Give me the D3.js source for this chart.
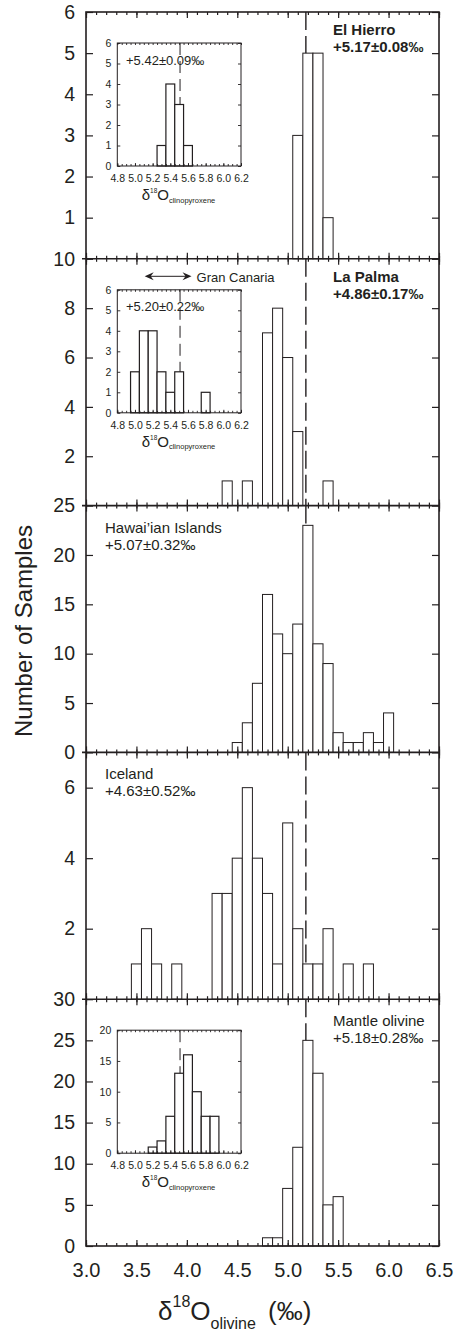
<!DOCTYPE html>
<html>
<head>
<meta charset="utf-8">
<script src="https://cdn.jsdelivr.net/npm/d3@7"></script>
<style>
  html, body { margin: 0; padding: 0; background: #fff; }
  svg { display: block; font-family: "Liberation Sans", Arial, Helvetica, sans-serif; }
</style>
</head>
<body>
<svg id="chart" width="458" height="1331"></svg>
<script>
// ---- olivine δ18O histograms (bin centres in ‰, counts) ----
const elHierroBins   = [5.1, 5.2, 5.3, 5.4];
const elHierroCounts = [3, 5, 5, 1];

const laPalmaBins   = [4.4, 4.6, 4.8, 4.9, 5.0, 5.1, 5.4];
const laPalmaCounts = [1, 1, 7, 8, 6, 3, 1];

const hawaiiBins   = [4.5, 4.6, 4.7, 4.8, 4.9, 5.0, 5.1, 5.2, 5.3, 5.4, 5.5, 5.6, 5.7, 5.8, 5.9, 6.0];
const hawaiiCounts = [1, 3, 7, 16, 12, 10, 13, 23, 11, 9, 2, 1, 1, 2, 1, 4];

const icelandBins   = [3.5, 3.6, 3.7, 3.9, 4.3, 4.4, 4.5, 4.6, 4.7, 4.8, 4.9, 5.0, 5.1, 5.2, 5.3, 5.4, 5.6, 5.8];
const icelandCounts = [1, 2, 1, 1, 3, 3, 4, 6, 4, 3, 1, 5, 2, 1, 1, 2, 1, 1];

const mantleBins   = [4.8, 4.9, 5.0, 5.1, 5.2, 5.3, 5.4, 5.5];
const mantleCounts = [1, 1, 7, 12, 25, 21, 5, 6];

// ---- clinopyroxene δ18O histograms (insets) ----
const elHierroCpxBins   = [5.3, 5.4, 5.5, 5.6];
const elHierroCpxCounts = [1, 4, 3, 1];

const laPalmaCpxBins   = [5.0, 5.1, 5.2, 5.3, 5.4, 5.5, 5.8];
const laPalmaCpxCounts = [2, 4, 4, 2, 1, 2, 1];

const mantleCpxBins   = [5.2, 5.3, 5.4, 5.5, 5.6, 5.7, 5.8, 5.9];
const mantleCpxCounts = [1, 2, 6, 13, 16, 10, 6, 6];

const granCanariaCpxRange = [5.11, 5.64];

// ---- reference values ----
const binWidth = 0.1;
const mantleOlivineMean = 5.18;
const mantleCpxMean = 5.51;

// ---- labels and ticks ----
const panelNames = ["El Hierro", "La Palma", "Hawai\u2019ian Islands", "Iceland", "Mantle olivine"];
const panelMeans = ["+5.17\u00b10.08\u2030", "+4.86\u00b10.17\u2030", "+5.07\u00b10.32\u2030", "+4.63\u00b10.52\u2030", "+5.18\u00b10.28\u2030"];
const panelYMax = [6, 10, 25, 7, 30];
const elHierroYTicks = [1, 2, 3, 4, 5, 6];
const laPalmaYTicks  = [2, 4, 6, 8, 10];
const hawaiiYTicks   = [0, 5, 10, 15, 20, 25];
const icelandYTicks  = [2, 4, 6];
const mantleYTicks   = [0, 5, 10, 15, 20, 25, 30];

const xTickLabels = [3.0, 3.5, 4.0, 4.5, 5.0, 5.5, 6.0, 6.5];
const xMinorTicks = d3.range(30, 66).map(d => d / 10);

const cpxXTickLabels = [4.8, 5.0, 5.2, 5.4, 5.6, 5.8, 6.0, 6.2];
const cpxXMinorTicks = d3.range(96, 125).map(d => d / 20);
const cpxMeans = ["+5.42\u00b10.09\u2030", "+5.20\u00b10.22\u2030", null];
const cpxYMax = [6, 6, 20];
const elHierroCpxYTicks = [0, 1, 2, 3, 4, 5, 6];
const laPalmaCpxYTicks  = [0, 1, 2, 3, 4, 5, 6];
const mantleCpxYTicks   = [0, 5, 10, 15, 20];

// ---- assemble panels ----
const zip = (b, c) => b.map((v, i) => ({ c: v, n: c[i] }));
const panels = [
  { name: panelNames[0], mean: panelMeans[0], ymax: panelYMax[0], ticks: elHierroYTicks, bins: zip(elHierroBins, elHierroCounts), bold: true, align: "right",
    inset: { bins: zip(elHierroCpxBins, elHierroCpxCounts), ymax: cpxYMax[0], ticks: elHierroCpxYTicks, mean: cpxMeans[0] } },
  { name: panelNames[1], mean: panelMeans[1], ymax: panelYMax[1], ticks: laPalmaYTicks, bins: zip(laPalmaBins, laPalmaCounts), bold: true, align: "right",
    inset: { bins: zip(laPalmaCpxBins, laPalmaCpxCounts), ymax: cpxYMax[1], ticks: laPalmaCpxYTicks, mean: cpxMeans[1], range: granCanariaCpxRange } },
  { name: panelNames[2], mean: panelMeans[2], ymax: panelYMax[2], ticks: hawaiiYTicks, bins: zip(hawaiiBins, hawaiiCounts), bold: false, align: "left" },
  { name: panelNames[3], mean: panelMeans[3], ymax: panelYMax[3], ticks: icelandYTicks, bins: zip(icelandBins, icelandCounts), bold: false, align: "left" },
  { name: panelNames[4], mean: panelMeans[4], ymax: panelYMax[4], ticks: mantleYTicks, bins: zip(mantleBins, mantleCounts), bold: false, align: "right",
    inset: { bins: zip(mantleCpxBins, mantleCpxCounts), ymax: cpxYMax[2], ticks: mantleCpxYTicks, mean: cpxMeans[2] } }
];

// ---- layout ----
const ink = "#231f20";
const plotLeft = 86, plotRight = 439, plotTop = 12, panelH = 246.8;
const plotBottom = plotTop + panelH * panels.length;
const intFmt = d3.format("d");

const svg = d3.select("#chart");
const x = d3.scaleLinear().domain([3.0, 6.5]).range([plotLeft, plotRight]);

function styleAxis(sel) {
  sel.select(".domain").remove();
  sel.selectAll(".tick line").attr("stroke", ink);
  sel.selectAll(".tick text").attr("fill", ink);
}

panels.forEach((p, i) => {
  const y0 = plotTop + i * panelH, y1 = y0 + panelH;
  const y = d3.scaleLinear().domain([0, p.ymax]).range([y1, y0]);
  const g = svg.append("g");

  // reference mantle olivine value
  g.append("line")
    .attr("x1", x(mantleOlivineMean)).attr("x2", x(mantleOlivineMean))
    .attr("y1", y0).attr("y2", y1)
    .attr("stroke", ink).attr("stroke-width", 1.4)
    .attr("stroke-dasharray", "18,6");

  // histogram bars
  g.selectAll("rect.bar").data(p.bins).join("rect")
    .attr("class", "bar")
    .attr("x", d => x(d.c - binWidth / 2))
    .attr("width", d => x(d.c + binWidth / 2) - x(d.c - binWidth / 2))
    .attr("y", d => y(d.n))
    .attr("height", d => y(0) - y(d.n))
    .attr("fill", "#fff").attr("stroke", ink).attr("stroke-width", 1);

  // x ticks on the bottom and top edges, pointing inward
  const bMinor = g.append("g").attr("transform", `translate(0,${y1})`)
    .call(d3.axisBottom(x).tickValues(xMinorTicks).tickSizeInner(-3).tickSizeOuter(0).tickFormat(""));
  const bMajor = g.append("g").attr("transform", `translate(0,${y1})`)
    .call(d3.axisBottom(x).tickValues(xTickLabels).tickSizeInner(-6).tickSizeOuter(0).tickFormat(""));
  const tMinor = g.append("g").attr("transform", `translate(0,${y0})`)
    .call(d3.axisTop(x).tickValues(xMinorTicks).tickSizeInner(-3).tickSizeOuter(0).tickFormat(""));
  const tMajor = g.append("g").attr("transform", `translate(0,${y0})`)
    .call(d3.axisTop(x).tickValues(xTickLabels).tickSizeInner(-6).tickSizeOuter(0).tickFormat(""));
  [bMinor, bMajor, tMinor, tMajor].forEach(a => { styleAxis(a); a.selectAll("line").attr("stroke-width", 1.2); });

  // y axis (labels on the left) and mirrored ticks on the right
  const yl = g.append("g").attr("transform", `translate(${plotLeft},0)`)
    .call(d3.axisLeft(y).tickValues(p.ticks).tickSizeInner(-7).tickSizeOuter(0).tickPadding(11).tickFormat(intFmt));
  styleAxis(yl);
  yl.selectAll(".tick text").attr("font-size", 19.5).attr("font-family", null);
  yl.selectAll(".tick line").attr("stroke-width", 1.2);
  const yr = g.append("g").attr("transform", `translate(${plotRight},0)`)
    .call(d3.axisRight(y).tickValues(p.ticks).tickSizeInner(-7).tickSizeOuter(0).tickFormat(""));
  styleAxis(yr);
  yr.selectAll(".tick line").attr("stroke-width", 1.2);

  // panel separator, extending slightly past the left axis
  if (i > 0) {
    g.append("line").attr("x1", plotLeft - 4).attr("x2", plotRight)
      .attr("y1", y0).attr("y2", y0).attr("stroke", ink).attr("stroke-width", 1.6);
  }

  // locality name and mean value
  const tx = p.align === "right" ? 333 : 105;
  const lab = g.append("g").attr("fill", ink).attr("font-size", 15)
    .attr("font-weight", p.bold ? "bold" : "normal");
  lab.append("text").attr("x", tx).attr("y", y0 + (p.bold ? 23 : 27)).text(p.name);
  lab.append("text").attr("x", tx).attr("y", y0 + (p.bold ? 40 : 44)).text(p.mean);

  if (p.inset) drawInset(p.inset, y0);
});

function drawInset(ins, panelTop) {
  const L = 117.3, R = 241, T = panelTop + 31, B = T + 123;
  const ix = d3.scaleLinear().domain([4.8, 6.2]).range([L, R]);
  const iy = d3.scaleLinear().domain([0, ins.ymax]).range([B, T]);
  const g = svg.append("g");

  g.append("rect").attr("x", L).attr("y", T).attr("width", R - L).attr("height", B - T).attr("fill", "#fff");

  g.append("line")
    .attr("x1", ix(mantleCpxMean)).attr("x2", ix(mantleCpxMean))
    .attr("y1", T).attr("y2", B)
    .attr("stroke", ink).attr("stroke-width", 1)
    .attr("stroke-dasharray", "12,6");

  g.selectAll("rect.bar").data(ins.bins).join("rect")
    .attr("class", "bar")
    .attr("x", d => ix(d.c - binWidth / 2))
    .attr("width", d => ix(d.c + binWidth / 2) - ix(d.c - binWidth / 2))
    .attr("y", d => iy(d.n))
    .attr("height", d => iy(0) - iy(d.n))
    .attr("fill", "#fff").attr("stroke", ink).attr("stroke-width", 1.2);

  g.append("rect").attr("x", L).attr("y", T).attr("width", R - L).attr("height", B - T)
    .attr("fill", "none").attr("stroke", ink).attr("stroke-width", 1);

  const axes = [
    g.append("g").attr("transform", `translate(0,${B})`)
      .call(d3.axisBottom(ix).tickValues(cpxXMinorTicks).tickSizeInner(-2).tickSizeOuter(0).tickFormat("")),
    g.append("g").attr("transform", `translate(0,${T})`)
      .call(d3.axisTop(ix).tickValues(cpxXMinorTicks).tickSizeInner(-2).tickSizeOuter(0).tickFormat("")),
    g.append("g").attr("transform", `translate(${R},0)`)
      .call(d3.axisRight(iy).tickValues(ins.ticks).tickSizeInner(-3).tickSizeOuter(0).tickFormat(""))
  ];
  const xl = g.append("g").attr("transform", `translate(0,${B})`)
    .call(d3.axisBottom(ix).tickValues(cpxXTickLabels).tickSizeInner(-3).tickSizeOuter(0).tickPadding(8.5).tickFormat(d3.format(".1f")));
  const yl = g.append("g").attr("transform", `translate(${L},0)`)
    .call(d3.axisLeft(iy).tickValues(ins.ticks).tickSizeInner(-3).tickSizeOuter(0).tickPadding(6).tickFormat(intFmt));
  [...axes, xl, yl].forEach(a => { styleAxis(a); a.selectAll("line").attr("stroke-width", 0.9); });
  [xl, yl].forEach(a => a.selectAll(".tick text").attr("font-size", 10.5).attr("font-family", null));

  // axis title: δ18O clinopyroxene
  const t = g.append("text").attr("x", L + 24.4).attr("y", B + 34).attr("fill", ink).attr("font-size", 15);
  t.append("tspan").text("\u03b4");
  t.append("tspan").attr("font-size", 6.5).attr("dy", -7).text("18");
  t.append("tspan").attr("dy", 7).text("O");
  t.append("tspan").attr("font-size", 7.5).attr("dy", 2.5).text("clinopyroxene");

  if (ins.mean) {
    g.append("text").attr("x", L + 8.7).attr("y", T + 21.5).attr("fill", ink).attr("font-size", 13).text(ins.mean);
  }

  if (ins.range) {
    const ay = T - 13.5;
    const xa = ix(ins.range[0]), xb = ix(ins.range[1]);
    g.append("line").attr("x1", xa + 4).attr("x2", xb - 4).attr("y1", ay).attr("y2", ay)
      .attr("stroke", ink).attr("stroke-width", 1);
    const head = (tip, dir) => `M${tip},${ay} L${tip + dir * 9},${ay - 4} L${tip + dir * 6},${ay} L${tip + dir * 9},${ay + 4} Z`;
    g.append("path").attr("d", head(xa, 1)).attr("fill", ink);
    g.append("path").attr("d", head(xb, -1)).attr("fill", ink);
    g.append("text").attr("x", xb + 5).attr("y", ay + 5.5).attr("fill", ink).attr("font-size", 13).text("Gran Canaria");
  }
}

// outer frame
svg.append("rect").attr("x", plotLeft).attr("y", plotTop)
  .attr("width", plotRight - plotLeft).attr("height", plotBottom - plotTop)
  .attr("fill", "none").attr("stroke", ink).attr("stroke-width", 1.6);

// x tick labels
const xa = svg.append("g").attr("transform", `translate(0,${plotBottom})`)
  .call(d3.axisBottom(x).tickValues(xTickLabels).tickSize(0).tickPadding(16.5).tickFormat(d3.format(".1f")));
styleAxis(xa);
xa.selectAll(".tick text").attr("font-size", 20).attr("font-family", null);

// axis titles
svg.append("text")
  .attr("transform", `translate(32,${631}) rotate(-90)`)
  .attr("text-anchor", "middle").attr("fill", ink).attr("font-size", 24)
  .text("Number of Samples");

const xt = svg.append("text").attr("x", 158).attr("y", 1320).attr("fill", ink).attr("font-size", 26);
xt.append("tspan").text("\u03b4");
xt.append("tspan").attr("font-size", 16).attr("dy", -13).text("18");
xt.append("tspan").attr("dy", 13).text("O");
xt.append("tspan").attr("font-size", 16).attr("dy", 9).text("olivine");
xt.append("tspan").attr("dy", -9).attr("dx", 5).text(" (\u2030)");
</script>
</body>
</html>
